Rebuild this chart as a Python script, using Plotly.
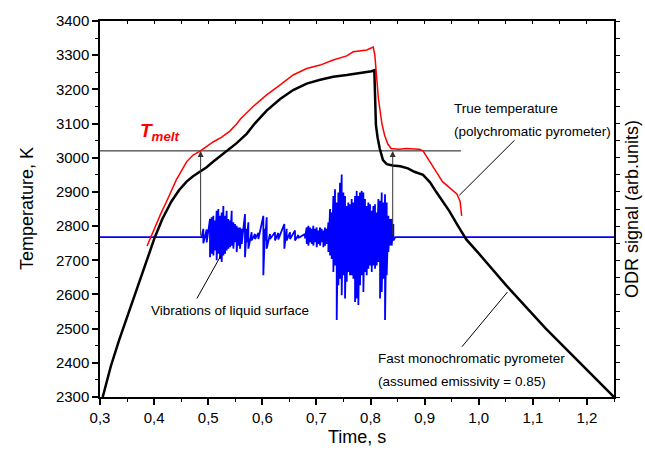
import plotly.graph_objects as go

# ---- data ----
# Fast monochromatic pyrometer (black)
black_t = [0.305, 0.320, 0.335, 0.349, 0.362, 0.375, 0.388, 0.401, 0.415, 0.432, 0.446,
           0.460, 0.472, 0.485, 0.497, 0.509, 0.521, 0.534, 0.552, 0.571, 0.586, 0.608,
           0.633, 0.657, 0.682, 0.707, 0.731, 0.756, 0.781, 0.802, 0.807, 0.809, 0.810,
           0.813, 0.817, 0.823, 0.830, 0.841, 0.855, 0.869, 0.881, 0.897, 0.910, 0.921,
           0.933, 0.946, 0.960, 0.977, 1.000, 1.050, 1.124, 1.200, 1.250]
black_T = [2300, 2390, 2465, 2530, 2590, 2650, 2710, 2766, 2820, 2872, 2905,
           2930, 2946, 2959, 2972, 2988, 3003, 3019, 3042, 3070, 3100, 3138,
           3172, 3198, 3217, 3228, 3237, 3242, 3247, 3253, 3256, 3150, 3095,
           3060, 3027, 2993, 2981, 2977, 2975, 2969, 2959, 2950, 2928, 2901,
           2873, 2843, 2805, 2761, 2720, 2628, 2500, 2378, 2300]

# True temperature, polychromatic pyrometer (red)
red_t = [0.387, 0.401, 0.412, 0.423, 0.441, 0.460, 0.472, 0.485, 0.497, 0.509, 0.525,
         0.540, 0.552, 0.560, 0.583, 0.608, 0.633, 0.657, 0.682, 0.707, 0.731, 0.756,
         0.768, 0.793, 0.805, 0.808, 0.8145, 0.817, 0.821, 0.826, 0.832, 0.838, 0.852,
         0.866, 0.880, 0.890, 0.897, 0.909, 0.921, 0.933, 0.948, 0.960, 0.962, 0.9655,
         0.9685]
red_T = [2742, 2795, 2835, 2872, 2935, 2988, 3008, 3019, 3032, 3046, 3060,
         3078, 3098, 3114, 3150, 3184, 3213, 3242, 3261, 3271, 3286, 3298,
         3310, 3315, 3324, 3300, 3174, 3150, 3100, 3066, 3040, 3027, 3025,
         3027, 3027, 3025, 3020, 2988, 2960, 2930, 2910, 2893, 2885, 2873,
         2830]

# Melting temperature level
t_melt = 3020
t_melt_end = 0.967

# ODR signal (blue): baseline and read envelope of the vibrations
odr_base = 2768
odr_t = [0.4910, 0.4972, 0.5033, 0.5064, 0.5095, 0.5126, 0.5156, 0.5187, 0.5218, 0.5249,
         0.5280, 0.5311, 0.5341, 0.5372, 0.5403, 0.5434, 0.5465, 0.5495, 0.5526, 0.5557,
         0.5588, 0.5619, 0.5680, 0.5711, 0.5742, 0.5803, 0.5865, 0.5927, 0.6019, 0.6050,
         0.6081, 0.6142, 0.6235, 0.6296, 0.6407, 0.6450, 0.6512, 0.6604, 0.6666, 0.6789,
         0.6820, 0.6851, 0.6882, 0.6913, 0.6943, 0.6974, 0.7005, 0.7036, 0.7067, 0.7097,
         0.7128, 0.7159, 0.7190, 0.7221, 0.7252, 0.7282, 0.7313, 0.7344, 0.7375, 0.7406,
         0.7436, 0.7467, 0.7498, 0.7529, 0.7560, 0.7590, 0.7621, 0.7652, 0.7683, 0.7714,
         0.7744, 0.7775, 0.7806, 0.7837, 0.7868, 0.7898, 0.7929, 0.7960, 0.7991, 0.8022,
         0.8052, 0.8083, 0.8114, 0.8145, 0.8176, 0.8207, 0.8237, 0.8268, 0.8299, 0.8330,
         0.8361, 0.8391, 0.8422]
odr_hi = [2792, 2790, 2821, 2826, 2830, 2816, 2845, 2850, 2830, 2840,
          2859, 2830, 2845, 2821, 2816, 2845, 2811, 2806, 2801, 2796,
          2796, 2792, 2835, 2792, 2811, 2782, 2777, 2780, 2830, 2792,
          2826, 2777, 2782, 2780, 2806, 2792, 2782, 2787, 2774, 2777,
          2796, 2801, 2796, 2792, 2801, 2792, 2796, 2787, 2796, 2792,
          2787, 2796, 2792, 2811, 2850, 2840, 2888, 2908, 2869, 2898,
          2927, 2951, 2898, 2888, 2859, 2869, 2864, 2879, 2869, 2888,
          2903, 2888, 2898, 2903, 2898, 2879, 2859, 2869, 2864, 2845,
          2859, 2864, 2840, 2879, 2874, 2898, 2869, 2893, 2869, 2830,
          2821, 2821, 2806]
odr_lo = [2750, 2752, 2709, 2719, 2714, 2729, 2700, 2719, 2704, 2695,
          2714, 2719, 2729, 2734, 2738, 2743, 2734, 2753, 2724, 2743,
          2734, 2748, 2709, 2753, 2734, 2758, 2762, 2762, 2656, 2758,
          2734, 2762, 2758, 2761, 2734, 2758, 2762, 2758, 2765, 2764,
          2748, 2743, 2753, 2748, 2743, 2753, 2738, 2748, 2743, 2753,
          2738, 2743, 2748, 2724, 2714, 2704, 2666, 2685, 2525, 2627,
          2646, 2598, 2656, 2588, 2637, 2666, 2656, 2656, 2646, 2578,
          2588, 2569, 2627, 2656, 2607, 2666, 2656, 2675, 2685, 2666,
          2685, 2675, 2685, 2695, 2588, 2607, 2646, 2525, 2656, 2724,
          2743, 2743, 2758]

x_range = [0.3, 1.25]
y_range = [2300, 3400]

# ---- build the ODR trace ----
blue_x = [x_range[0], 0.488]
blue_y = [odr_base, odr_base]
for t, hi, lo in zip(odr_t, odr_hi, odr_lo):
    blue_x += [t, t]
    blue_y += [hi, lo]
blue_x += [0.846, x_range[1]]
blue_y += [odr_base, odr_base]

FONT = "Arial, 'Liberation Sans', sans-serif"

fig = go.Figure()
fig.add_trace(go.Scatter(x=blue_x, y=blue_y, mode="lines",
                         line=dict(color="#0000ff", width=1.8), hoverinfo="skip"))
fig.add_trace(go.Scatter(x=[x_range[0], t_melt_end], y=[t_melt, t_melt], mode="lines",
                         line=dict(color="#111111", width=1), hoverinfo="skip"))
fig.add_trace(go.Scatter(x=red_t, y=red_T, mode="lines",
                         line=dict(color="#ff0000", width=1.5), hoverinfo="skip"))
fig.add_trace(go.Scatter(x=black_t, y=black_T, mode="lines",
                         line=dict(color="#000000", width=2.5), hoverinfo="skip"))
fig.add_trace(go.Scatter(x=[None], y=[None], xaxis="x2", yaxis="y2",
                         mode="lines", hoverinfo="skip"))

# vertical arrows from ODR onset to melting level
for xa in [0.486, 0.841]:
    fig.add_annotation(x=xa, y=t_melt, ax=xa, ay=odr_base, axref="x", ayref="y",
                       xref="x", yref="y", text="", showarrow=True, arrowhead=2,
                       arrowsize=1.2, arrowwidth=1, arrowcolor="#333333")

# pointer lines
pointers = [((0.479, 2588), (0.525, 2718)),
            ((1.066, 3051), (0.964, 2890)),
            ((0.969, 2447), (1.053, 2607))]
for (x0, y0), (x1, y1) in pointers:
    fig.add_shape(type="line", x0=x0, y0=y0, x1=x1, y1=y1, xref="x", yref="y",
                  line=dict(color="#000000", width=1))

def note(text, x, y, size=13.5, color="#000000", xanchor="left"):
    fig.add_annotation(x=x, y=y, xref="x", yref="y", text=text, showarrow=False,
                       xanchor=xanchor, yanchor="middle",
                       font=dict(family=FONT, size=size, color=color))

note("<b><i>T</i></b><sub><b><i>melt</i></b></sub>", 0.371, 3075, size=19, color="#ff0000")
note("Vibrations of liquid surface", 0.540, 2554, xanchor="center")
note("True temperature", 0.951, 3144)
note("(polychromatic pyrometer)", 0.951, 3077)
note("Fast monochromatic pyrometer", 0.810, 2414)
note("(assumed emissivity = 0.85)", 0.810, 2346)

# axis titles
fig.add_annotation(xref="paper", yref="paper", x=-0.142, y=0.5, text="Temperature, K",
                   textangle=-90, showarrow=False, xanchor="center", yanchor="middle",
                   font=dict(family=FONT, size=18, color="#000"))
fig.add_annotation(xref="paper", yref="paper", x=0.5, y=-0.106, text="Time, s",
                   showarrow=False, xanchor="center", yanchor="middle",
                   font=dict(family=FONT, size=18, color="#000"))
fig.add_annotation(xref="paper", yref="paper", x=1.035, y=0.5, text="ODR signal (arb.units)",
                   textangle=-90, showarrow=False, xanchor="center", yanchor="middle",
                   font=dict(family=FONT, size=18, color="#000"))

axis_common = dict(showgrid=False, zeroline=False, showline=True, linecolor="#000",
                   linewidth=1.5, tickcolor="#000")
fig.update_layout(
    width=645, height=455,
    margin=dict(l=100, r=31, t=19, b=58),
    paper_bgcolor="white", plot_bgcolor="white",
    showlegend=False,
    separators=", ",
    font=dict(family=FONT, size=15, color="#000"),
    xaxis=dict(range=x_range, tick0=0.3, dtick=0.1, tickformat=".1f",
               ticks="outside", ticklen=6, tickwidth=1.5,
               minor=dict(dtick=0.05, tick0=0.3, ticks="outside", ticklen=3,
                          tickwidth=1, tickcolor="#000"),
               tickfont=dict(size=15), **axis_common),
    yaxis=dict(range=y_range, dtick=100, tickformat="d",
               ticks="outside", ticklen=6, tickwidth=1.5,
               minor=dict(dtick=50, ticks="outside", ticklen=3, tickwidth=1,
                          tickcolor="#000"),
               tickfont=dict(size=15), **axis_common),
    xaxis2=dict(range=x_range, overlaying="x", side="top", dtick=0.05, tick0=0.3,
                ticks="inside", ticklen=3, tickwidth=1, showticklabels=False,
                **axis_common),
    yaxis2=dict(range=y_range, overlaying="y", side="right", dtick=50,
                ticks="outside", ticklen=4, tickwidth=1, showticklabels=False,
                **axis_common),
)

fig.write_html("out.html")
